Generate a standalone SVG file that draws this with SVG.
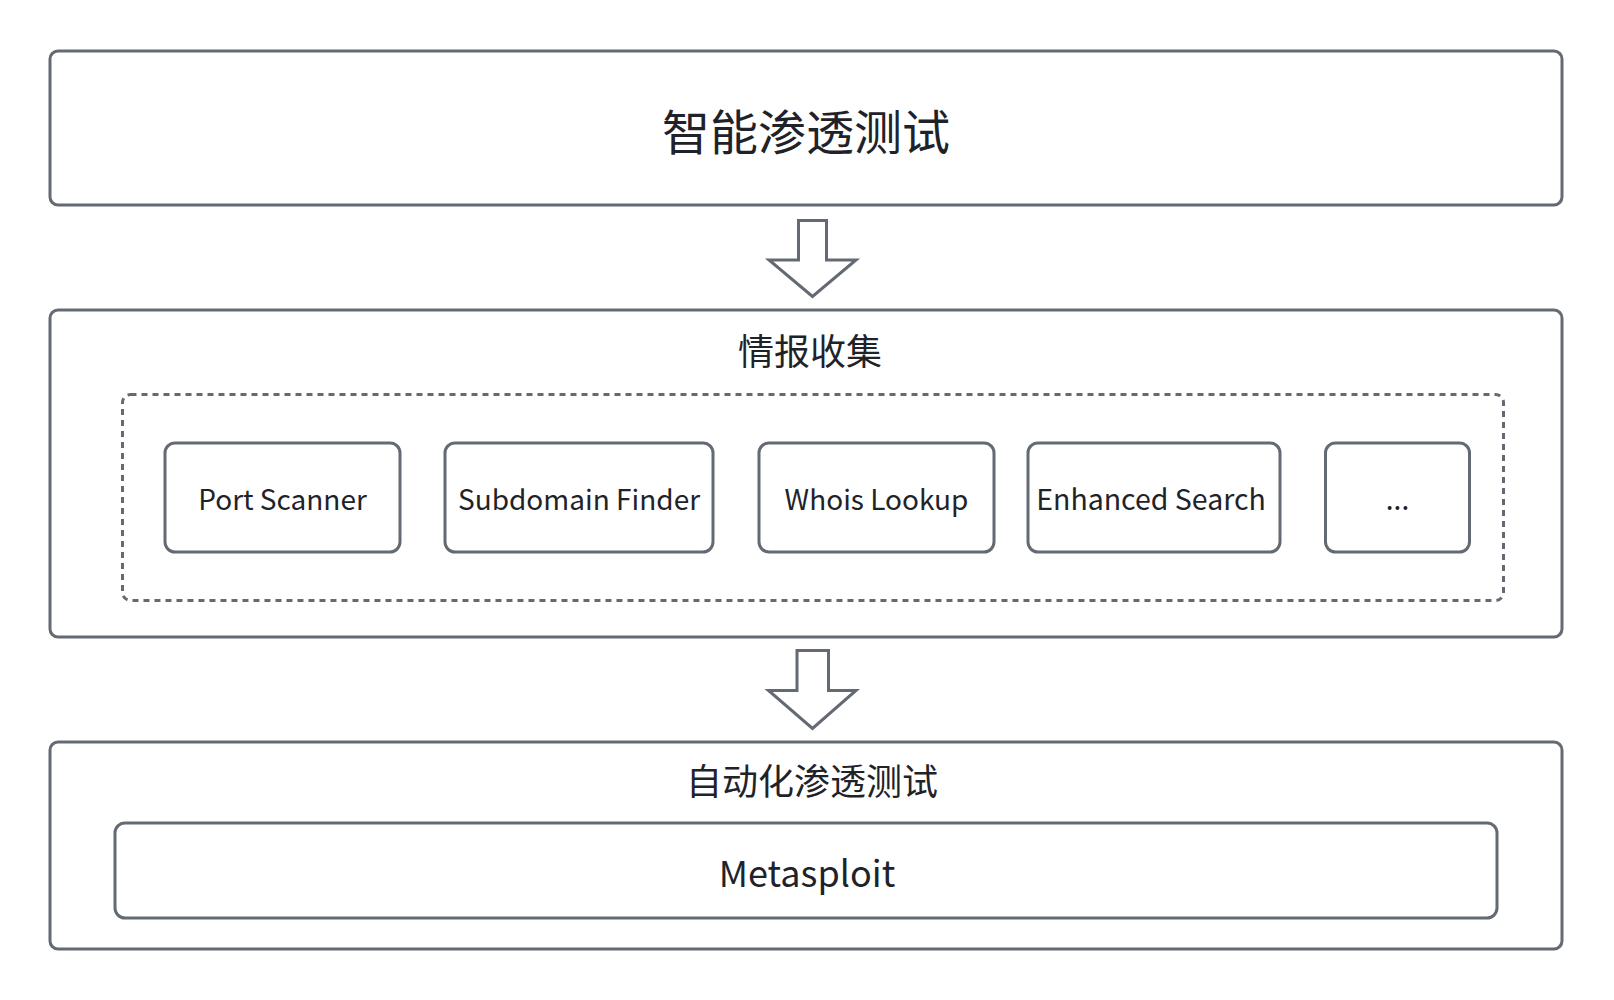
<svg xmlns="http://www.w3.org/2000/svg" width="1614" height="1000" viewBox="0 0 1614 1000">
<style>
.box{fill:#fff;stroke:#646a73;stroke-width:3}
.dash{fill:none;stroke:#646a73;stroke-width:3;stroke-dasharray:6 5}
.arrow{fill:#fff;stroke:#646a73;stroke-width:3;stroke-linejoin:miter}
text{font-family:"Noto Sans CJK SC","Noto Sans",sans-serif;fill:#1f2329;text-anchor:middle}
.t1{font-size:48px}
.t2{font-size:36px}
.t3{font-size:36px}
.t4{font-size:28px}
</style>
<rect width="1614" height="1000" fill="#fff"/>
<g id="node-pentest">
<rect class="box" x="50" y="51" width="1512" height="154" rx="8"/>
<text class="t1" x="806" y="129" dominant-baseline="central">智能渗透测试</text>
</g>
<g id="node-recon">
<rect class="box" x="50" y="310" width="1512" height="327" rx="8"/>
<text class="t2" x="810" y="348.5" dominant-baseline="central">情报收集</text>
<rect class="dash" x="122.5" y="394.5" width="1381" height="206" rx="8"/>
</g>
<g id="node-port">
<rect class="box" x="165" y="443" width="235" height="109" rx="10"/>
<text class="t4" x="282.5" y="509.5">Port Scanner</text>
</g>
<g id="node-subdomain">
<rect class="box" x="445" y="443" width="268" height="109" rx="10"/>
<text class="t4" x="579" y="509.5">Subdomain Finder</text>
</g>
<g id="node-whois">
<rect class="box" x="759" y="443" width="235" height="109" rx="10"/>
<text class="t4" x="876.5" y="509.5">Whois Lookup</text>
</g>
<g id="node-search">
<rect class="box" x="1028" y="443" width="252" height="109" rx="10"/>
<text class="t4" x="1151" y="509.5" style="font-size:28.5px">Enhanced Search</text>
</g>
<g id="node-more">
<rect class="box" x="1325.5" y="443" width="144" height="109" rx="10"/>
<text class="t4" x="1397.5" y="509.5">...</text>
</g>
<g id="node-auto">
<rect class="box" x="50" y="742" width="1512" height="207" rx="8"/>
<text class="t2" x="812" y="779" dominant-baseline="central">自动化渗透测试</text>
</g>
<g id="node-metasploit">
<rect class="box" x="115" y="823" width="1382" height="95" rx="10"/>
<text class="t3" x="807" y="886.5">Metasploit</text>
</g>
<g id="connectors">
<path class="arrow" d="M798.5 220.5 H826.5 V260 H856 L812.5 296.5 L769 260 H798.5 Z"/>
<path class="arrow" d="M797 650.5 H828.5 V690.5 H856 L812.5 728.5 L768.5 690.5 H797 Z"/>
</g>
</svg>
